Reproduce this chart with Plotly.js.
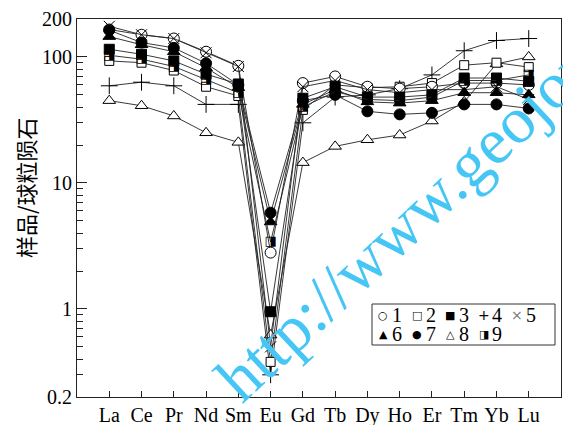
<!DOCTYPE html>
<html><head><meta charset="utf-8">
<script src="https://cdn.plot.ly/plotly-3.0.1.min.js"></script>
<style>body{margin:0;background:#fff}#c{width:563px;height:425px}</style>
</head><body><div id="c"></div>
<script>
const elements = ['La','Ce','Pr','Nd','Sm','Eu','Gd','Tb','Dy','Ho','Er','Tm','Yb','Lu'];
const s1 = [165, 150, 140, 110, 85, 2.8, 62, 70, 58, 56, 58, 62, 62, 60];
const s2 = [93, 90, 78, 58, 49, 0.38, 38, 60, 57, 58, 62, 86, 90, 83];
const s3 = [115, 105, 93, 73, 61, 0.95, 47, 58, 48, 48, 50, 68, 68, 64];
const s4 = [59, 63, 59, 42, 42, 0.30, 30, 48, 50, 56, 72, 112, 135, 140];
const s5 = [175, 150, 140, 108, 84, 0.5, 58, 65, 55, 52, 55, 55, 58, 46];
const s6 = [145, 125, 110, 82, 57, 4.9, 42, 55, 44, 43, 45, 52, 52, 50];
const s7 = [163, 130, 118, 89, 60, 5.8, 45, 50, 37, 35, 36, 42, 42, 39];
const s8 = [45, 41, 34, 25, 21, 0.62, 14.5, 19.5, 22, 24, 31, 44, 88, 100];
const s9 = [103, 96, 84, 66, 52, 3.4, 40, 53, 46, 45, 48, 65, 65, 72];
const seriesNames = ['1','2','3','4','5','6','7','8','9'];
const legendSymbols = ['○','□','■','+','×','▲','●','△','◨'];
const yTickVals = [0.2, 1, 10, 100, 200];
const yTickText = ['0.2', '1', '10', '100', '200'];
const yMinorVals = [0.3,0.4,0.5,0.6,0.7,0.8,0.9,2,3,4,5,6,7,8,9,20,30,40,50,60,70,80,90];
const watermark = 'http://www.geojournals.cn';
const yTitle = '样品/球粒陨石';

const xIdx = elements.map((_, i) => i);
const LC = '#222';
function mk(y, name, symbol, size, fill){
  return {x: xIdx, y: y, name: name, type: 'scatter', mode: 'lines+markers',
    line: {color: LC, width: 0.9},
    marker: {symbol: symbol, size: size, color: fill, line: {color: '#000', width: 1}},
    showlegend: false, hoverinfo: 'skip'};
}
const traces = [
  mk(s8, seriesNames[7], 'triangle-up', 11, '#fff'),
  mk(s4, seriesNames[3], 'cross-thin-open', 12, '#000'),
  mk(s2, seriesNames[1], 'square', 9, '#fff'),
  mk(s1, seriesNames[0], 'circle', 11, '#fff'),
  mk(s5, seriesNames[4], 'x-thin-open', 11, '#000'),
  mk(s3, seriesNames[2], 'square', 10, '#000'),
  mk(s6, seriesNames[5], 'triangle-up', 11, '#000'),
  mk(s7, seriesNames[6], 'circle', 11, '#000'),
  {x: xIdx, y: s9, name: seriesNames[8], type: 'scatter', mode: 'lines+text',
   line: {color: LC, width: 0.9}, text: s9.map(() => legendSymbols[8]),
   textposition: 'middle center', textfont: {family: 'DejaVu Sans', size: 13, color: '#000'},
   showlegend: false, hoverinfo: 'skip'}
];

const annotations = [];
const shapes = [];
// watermark first so everything else sits on top
annotations.push({xref:'paper', yref:'paper', x: (483-77)/484, y: (397-150)/378, text: watermark,
  textangle:-43, showarrow:false, xanchor:'center', yanchor:'middle',
  font:{family:'Liberation Serif', size: 66, color:'#45c6f5'}});

const row1 = [0,1,2,3,4], row2 = [5,6,7,8];
const legX0 = (383-77)/484, legStep = 33.5/484;
function addLegendRow(idxs, ypx){
  idxs.forEach((k, j) => {
    const xs = legX0 + j*legStep;
    const yp = (397 - ypx)/378;
    annotations.push({xref:'paper', yref:'paper', x: xs, y: yp, text: legendSymbols[k],
      showarrow:false, xanchor:'center', yanchor:'middle', borderpad:0,
      font:{family:'DejaVu Sans', size: (k===3||k===4)?14:11, color: k===4 ? '#777' : '#000'}});
    annotations.push({xref:'paper', yref:'paper', x: xs + 8/484, y: yp, text: seriesNames[k],
      showarrow:false, xanchor:'left', yanchor:'middle', borderpad:0,
      font:{family:'Liberation Serif', size: 20, color:'#000'}});
  });
}
addLegendRow(row1, 315);
addLegendRow(row2, 334);
shapes.push({type:'rect', xref:'paper', yref:'paper',
  x0:(372-77)/484, x1:(555-77)/484, y0:(397-345)/378, y1:(397-304)/378,
  line:{color:'#333', width:1}, fillcolor:'rgba(255,255,255,0)'});

annotations.push({xref:'paper', yref:'paper', x: -52/484, y: (397-188)/378, text: yTitle,
  textangle:-90, showarrow:false, xanchor:'center', yanchor:'middle',
  font:{family:'Noto Sans CJK SC', size: 22, color:'#000'}});

const layout = {
  width: 563, height: 425,
  margin: {l: 77, r: 2, t: 19, b: 28},
  paper_bgcolor: '#fff', plot_bgcolor: '#fff',
  showlegend: false,
  xaxis: {range: [-1, 14], tickmode: 'array', tickvals: xIdx, ticktext: elements,
    ticks: 'inside', ticklen: 6, tickcolor: LC, showline: true, linecolor: LC, linewidth: 1,
    mirror: true, showgrid: false, zeroline: false,
    tickfont: {family: 'Liberation Serif', size: 20, color: '#000'}},
  yaxis: {type: 'log', range: [Math.log10(0.2), Math.log10(200)], tickmode: 'array',
    tickvals: yTickVals, ticktext: yTickText, ticks: 'inside', ticklen: 10, tickcolor: LC,
    showline: true, linecolor: LC, linewidth: 1, mirror: true, showgrid: false, zeroline: false,
    minor: {tickvals: yMinorVals, ticks: 'inside', ticklen: 6, tickcolor: LC, showgrid: false},
    tickfont: {family: 'Liberation Serif', size: 20, color: '#000'}},
  annotations: annotations,
  shapes: shapes
};
Plotly.newPlot('c', traces, layout, {staticPlot: true, displayModeBar: false});
</script>
</body></html>
